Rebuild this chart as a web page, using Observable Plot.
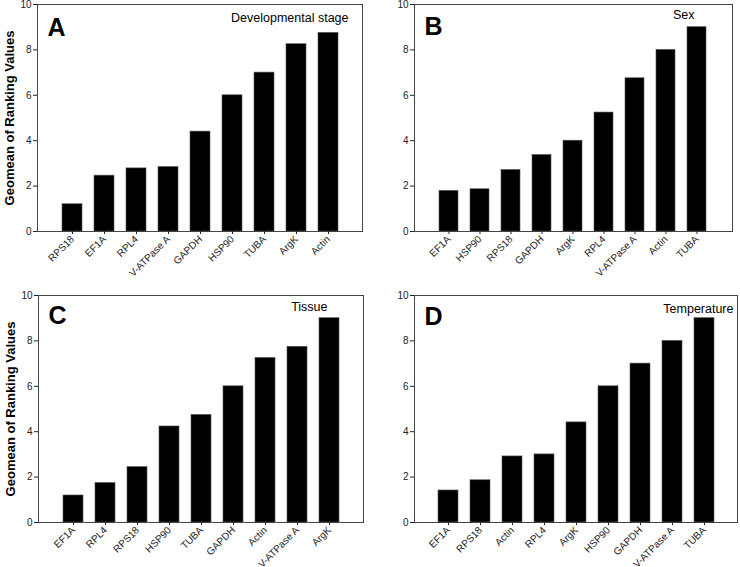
<!DOCTYPE html>
<html>
<head>
<meta charset="utf-8">
<script src="https://cdn.jsdelivr.net/npm/d3@7"></script>
<script src="https://cdn.jsdelivr.net/npm/@observablehq/plot@0.6"></script>
<style>
  html, body { margin: 0; padding: 0; background: #fff; }
  #wrap { position: relative; width: 740px; height: 567px; overflow: hidden; font-family: "Liberation Sans", Arial, sans-serif; }
  #wrap > svg { position: absolute; }
</style>
</head>
<body>
<div id="wrap"></div>
<script>
// Panel A – Developmental stage
const genesA = ["RPS18", "EF1A", "RPL4", "V-ATPase A", "GAPDH", "HSP90", "TUBA", "ArgK", "Actin"];
const valuesA = [1.2, 2.46, 2.78, 2.84, 4.4, 6.0, 7.0, 8.25, 8.75];
// Panel B – Sex
const genesB = ["EF1A", "HSP90", "RPS18", "GAPDH", "ArgK", "RPL4", "V-ATPase A", "Actin", "TUBA"];
const valuesB = [1.79, 1.86, 2.71, 3.37, 4.0, 5.24, 6.75, 8.0, 9.0];
// Panel C – Tissue
const genesC = ["EF1A", "RPL4", "RPS18", "HSP90", "TUBA", "GAPDH", "Actin", "V-ATPase A", "ArgK"];
const valuesC = [1.19, 1.74, 2.44, 4.23, 4.74, 6.0, 7.25, 7.74, 9.0];
// Panel D – Temperature
const genesD = ["EF1A", "RPS18", "Actin", "RPL4", "ArgK", "HSP90", "GAPDH", "V-ATPase A", "TUBA"];
const valuesD = [1.41, 1.86, 2.91, 3.0, 4.41, 6.0, 7.0, 8.0, 9.0];

const yTicks = [0, 2, 4, 6, 8, 10];
const yLabel = "Geomean of Ranking Values";

const panels = [
  {letter: "A", title: "Developmental stage", genes: genesA, values: valuesA, left: 0, top: 0, height: 283,
   mL: 37, mR: 8, mT: 4, mB: 52, ylab: true, letterDy: 23, titleDx: -14, titleDy: 13},
  {letter: "B", title: "Sex", genes: genesB, values: valuesB, left: 370, top: 0, height: 283,
   mL: 44, mR: 8, mT: 4, mB: 52, ylab: false, letterDy: 22, titleDx: -38, titleDy: 10},
  {letter: "C", title: "Tissue", genes: genesC, values: valuesC, left: 0, top: 283, height: 284,
   mL: 38, mR: 7, mT: 12, mB: 45, ylab: true, letterDy: 20, titleDx: -36, titleDy: 11},
  {letter: "D", title: "Temperature", genes: genesD, values: valuesD, left: 370, top: 283, height: 284,
   mL: 44, mR: 3, mT: 12, mB: 45, ylab: false, letterDy: 21, titleDx: -4, titleDy: 13}
];

const wrap = document.getElementById("wrap");
for (const p of panels) {
  const data = p.genes.map((g, i) => ({gene: g, value: p.values[i]}));
  const marks = [
    Plot.barY(data, {x: "gene", y: "value", fill: "#000", stroke: "#555", strokeWidth: 0.6}),
    Plot.frame({stroke: "#444", strokeWidth: 1}),
    Plot.axisY({ticks: yTicks, tickSize: 4, tickPadding: 2, fontSize: 10, color: "#222", label: null}),
    Plot.axisX({tickSize: 3, tickPadding: 3, tickRotate: -45, fontSize: 10, color: "#222", label: null}),
    Plot.text([p.letter], {frameAnchor: "top-left", dx: 10, dy: p.letterDy, textAnchor: "start", lineAnchor: "middle",
      fontSize: 25, fontWeight: "bold", fill: "#000"}),
    Plot.text([p.title], {frameAnchor: "top-right", dx: p.titleDx, dy: p.titleDy, textAnchor: "end", lineAnchor: "middle",
      fontSize: 12.5, fill: "#000"})
  ];
  if (p.ylab) {
    marks.push(Plot.text([yLabel], {frameAnchor: "left", dx: -28, rotate: -90, textAnchor: "middle", lineAnchor: "middle",
      fontSize: 13, fontWeight: "bold", fill: "#000"}));
  }
  const svg = Plot.plot({
    width: 370,
    height: p.height,
    marginLeft: p.mL, marginRight: p.mR, marginTop: p.mT, marginBottom: p.mB,
    style: {fontFamily: "'Liberation Sans', Arial, sans-serif", background: "#fff", overflow: "visible"},
    x: {type: "band", domain: p.genes, paddingInner: 0.385, paddingOuter: 0.69},
    y: {domain: [0, 10]},
    marks
  });
  svg.style.left = p.left + "px";
  svg.style.top = p.top + "px";
  wrap.appendChild(svg);
}
</script>
</body>
</html>
